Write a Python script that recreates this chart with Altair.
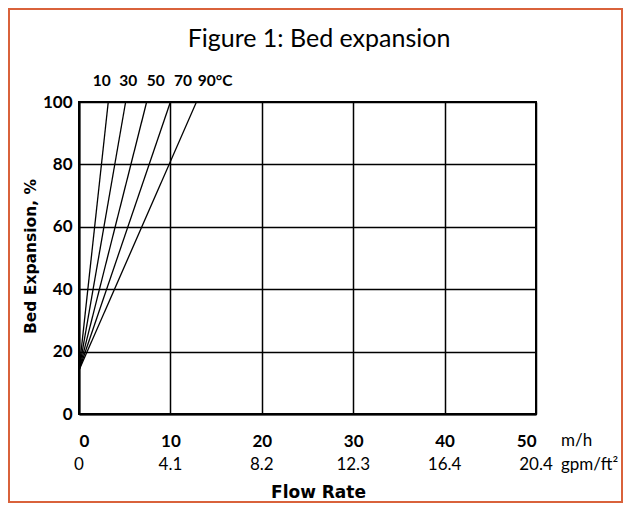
import altair as alt
import pandas as pd

# ---- data ----
temps = ["10", "30", "50", "70", "90°C"]
start_flow = [0.0, 0.0, 0.0, 0.0, 0.0]
start_exp = [14, 14, 14, 14, 14]
end_flow = [3.2, 5.1, 7.4, 10.0, 12.85]
end_exp = [100, 100, 100, 100, 100]
temp_label_x = [1.5, 4.4, 7.4, 10.4, 13.0]
flow_mh = [0, 10, 20, 30, 40, 50]
flow_gpm = ["0", "4.1", "8.2", "12.3", "16.4", "20.4"]
exp_ticks = [0, 20, 40, 60, 80, 100]

rows = []
for t, f0, e0, f1, e1 in zip(temps, start_flow, start_exp, end_flow, end_exp):
    rows.append({"temp": t, "flow": f0, "exp": e0})
    rows.append({"temp": t, "flow": f1, "exp": e1})
lines_df = pd.DataFrame(rows)
labels_df = pd.DataFrame({"temp": temps, "flow": temp_label_x})
gpm_df = pd.DataFrame({"flow": flow_mh, "gpm": flow_gpm})

W, H = 457, 312
FONT = "Lato"
BOLDFONT = "DejaVu Sans"
xs = alt.Scale(domain=[0, 50], nice=False, zero=False)
ys = alt.Scale(domain=[0, 100], nice=False, zero=False)

lines = alt.Chart(lines_df).mark_line(color="black", strokeWidth=1.3).encode(
    x=alt.X("flow:Q", scale=xs, axis=alt.Axis(
        values=flow_mh, title="Flow Rate", ticks=False, tickSize=0,
        labelPadding=27, labelBaseline="middle", labelFontSize=17,
        labelFont=FONT, labelFontWeight="bold", labelColor="black",
        titleFont=BOLDFONT, titleFontSize=17, titleFontWeight="bold", titleColor="black",
        titleX=239, titleY=83, titleBaseline="alphabetic",
        grid=True, gridColor="black", gridWidth=1.5, gridOpacity=1,
        domainColor="black", domainWidth=2)),
    y=alt.Y("exp:Q", scale=ys, axis=alt.Axis(
        values=exp_ticks, title="Bed Expansion, %", ticks=False, tickSize=0,
        labelPadding=7, labelFontSize=17, labelFontWeight="bold",
        labelFont=FONT, labelColor="black",
        titleFont=BOLDFONT, titleFontSize=15.5, titleFontWeight="bold", titleColor="black",
        titleX=-44, titleY=154, titleBaseline="alphabetic",
        grid=True, gridColor="black", gridWidth=1.5, gridOpacity=1,
        domainColor="black", domainWidth=2)),
    detail="temp:N",
)

temp_text = alt.Chart(labels_df).mark_text(
    align="left", baseline="alphabetic", fontSize=15.5, fontWeight="bold",
    font=FONT, color="black").encode(
    x=alt.X("flow:Q", scale=xs), y=alt.value(-16), text="temp:N")

gpm_text = alt.Chart(gpm_df).mark_text(
    align="center", baseline="middle", fontSize=17, font=FONT, color="black").encode(
    x=alt.X("flow:Q", scale=xs), y=alt.value(H + 51), text="gpm:N")

unit1 = alt.Chart(pd.DataFrame({"flow": [50], "u": ["m/h"]})).mark_text(
    align="left", baseline="middle", fontSize=17, font=FONT, color="black", dx=25).encode(
    x=alt.X("flow:Q", scale=xs), y=alt.value(H + 27), text="u:N")
unit2 = alt.Chart(pd.DataFrame({"flow": [50], "u": ["gpm/ft²"]})).mark_text(
    align="left", baseline="middle", fontSize=17, font=FONT, color="black", dx=25).encode(
    x=alt.X("flow:Q", scale=xs), y=alt.value(H + 51), text="u:N")

title = alt.Chart(alt.Data(values=[{}])).mark_text(
    text="Figure 1: Bed expansion", align="center", baseline="alphabetic",
    fontSize=25, font=FONT, color="black").encode(
    x=alt.value(240), y=alt.value(-55))

border = alt.Chart(alt.Data(values=[{}])).mark_rect(
    filled=False, stroke="#D9623B", strokeWidth=2).encode(
    x=alt.value(-70), x2=alt.value(543), y=alt.value(-93), y2=alt.value(400))

chart = alt.layer(border, lines, temp_text, gpm_text, unit1, unit2, title).properties(
    width=W, height=H,
    autosize=alt.AutoSizeParams(type="none"),
    padding={"left": 71, "top": 94, "right": 87, "bottom": 89},
    background="white",
).configure_view(stroke="black", strokeWidth=2)

chart.save("out.html", embed_options={"renderer": "svg", "actions": False})
